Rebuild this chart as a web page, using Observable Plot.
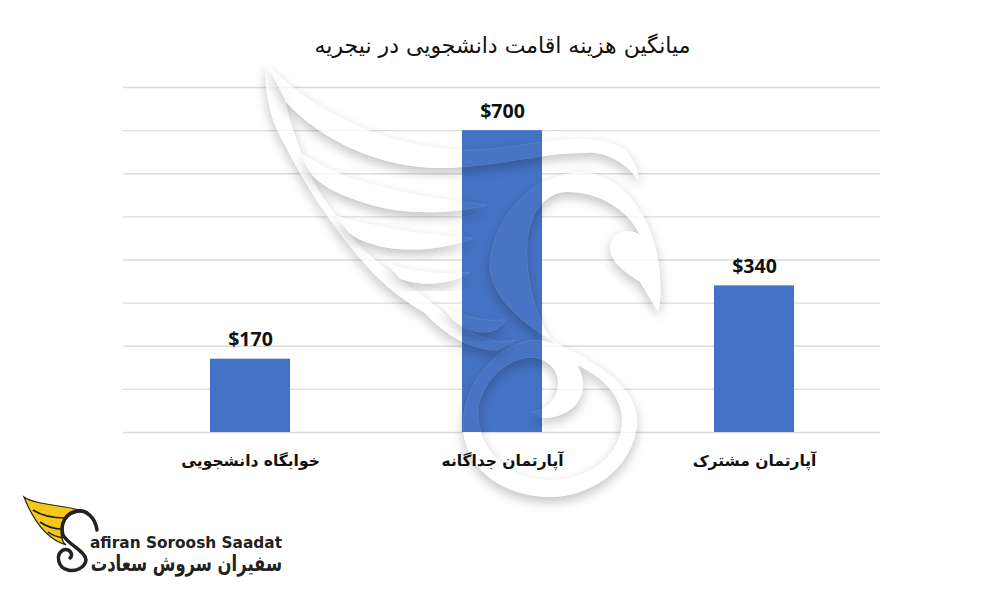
<!DOCTYPE html>
<html lang="fa"><head><meta charset="utf-8">
<script src="https://cdn.jsdelivr.net/npm/d3@7"></script>
<script src="https://cdn.jsdelivr.net/npm/@observablehq/plot@0.6"></script>
<style>
html,body{margin:0;background:#fff;width:1000px;height:600px;overflow:hidden;position:relative}
#title{position:absolute;top:31px;left:0;width:1005px;text-align:center;font:400 22px "DejaVu Sans",sans-serif;color:#111;direction:rtl;height:30px;line-height:30px}
#chart{position:absolute;top:0;left:0}
#art{position:absolute;left:0;top:0;pointer-events:none}
</style></head><body>
<div id="chart"></div>
<div id="title">میانگین هزینه اقامت دانشجویی در نیجریه</div>
<svg id="art" width="1000" height="600" viewBox="0 0 1000 600">
  <path d="M24 497C35 505 65 505 88 512C75 510 65 515 62 528C60 535 62 542 66 545C50 540 35 525 24 497Z" fill="#f7c61a" stroke="#222" stroke-width="1.2"/>
  <path d="M33 510C42 516 54 518 66 518M40 522C47 527 54 529 62 529M48 532C53 536 58 537 63 538" fill="none" stroke="#222" stroke-width="1.6"/>
  <path d="M97 530C95 516 85 510 78 511C65 512 60 525 63 535C68 545 85 550 86 560C85 568 75 572 68 570C58 568 55 555 63 550C70 548 74 555 70 558" fill="none" stroke="#222" stroke-width="3.5" stroke-linecap="round"/>
  <text x="90" y="548" font-family="'DejaVu Sans',sans-serif" font-weight="700" font-size="15.5" fill="#222" textLength="192" lengthAdjust="spacingAndGlyphs">afiran Soroosh Saadat</text>
  <text transform="translate(282 571) scale(.82,1.1)" direction="rtl" text-anchor="start" font-family="'DejaVu Sans',sans-serif" font-weight="700" font-size="20" fill="#222">سفیران سروش سعادت</text>
</svg>
<script>
const categories = ["خوابگاه دانشجویی", "آپارتمان جداگانه", "آپارتمان مشترک"];
const values = [170, 700, 340];
const gridTicks = [0, 100, 200, 300, 400, 500, 600, 700, 800];
const rows = categories.map((c, i) => ({c, v: values[i]}));
const fontFamily = "'DejaVu Sans', sans-serif";

// decorative watermark outlines (not data)
const watermarkShapes = [
  "M265 62C264 95 272 125 285 145C300 175 318 205 345 240C365 265 385 290 425 313C445 335 470 350 497 350L515 340C495 345 470 335 453 320C435 305 415 290 400 279C380 265 360 248 349 233C335 215 320 195 310 173C300 150 290 125 286 102C278 88 270 75 265 62Z",
  "M265 62C310 110 390 150 470 150C520 150 590 125 625 150C635 160 640 175 638 180C625 160 600 150 583 153C540 153 490 168 440 168C380 168 320 140 286 102Z",
  "M300 152C340 180 400 195 487 205C450 215 400 215 365 203C340 195 322 187 310 173Z",
  "M335 215C365 225 420 235 473 238C440 252 400 252 375 245C365 242 355 238 349 233Z",
  "M385 262C410 272 440 275 470 272C450 285 425 287 400 279Z",
  "M440 305C460 315 480 322 505 320C495 338 470 335 453 320Z",
  "M660 272C655 220 625 175 583 172C540 172 495 210 490 262C488 300 530 330 570 350C610 370 640 395 637 425C632 470 590 497 550 497C505 497 463 470 463 425C463 385 495 345 533 340C565 340 583 365 583 385C583 405 565 418 543 418L532 412C545 410 558 400 558 383C558 365 540 355 525 358C500 362 478 390 478 413C478 450 510 480 550 480C590 480 622 455 622 420C622 395 600 375 577 365C545 345 527 300 527 250C527 215 545 192 567 192C600 192 628 210 640 235C625 225 608 235 610 250C612 265 630 275 640 282L658 312C662 300 660 285 660 272Z"
];

function filterDefs(g) {
  const f = g.append("filter").attr("id", "wmShadow").attr("x", "-30%").attr("y", "-30%").attr("width", "160%").attr("height", "160%");
  f.append("feGaussianBlur").attr("in", "SourceAlpha").attr("stdDeviation", 6).attr("result", "b");
  f.append("feOffset").attr("in", "b").attr("dy", 5).attr("result", "o");
  f.append("feComposite").attr("in", "o").attr("in2", "SourceAlpha").attr("operator", "out").attr("result", "c");
  const t = f.append("feComponentTransfer").attr("in", "c");
  t.append("feFuncA").attr("type", "linear").attr("slope", 0.24);
}

const watermarkBelow = () => {
  const g = d3.create("svg:g");
  filterDefs(g);
  for (const d of watermarkShapes) {
    g.append("path").attr("d", d).attr("fill", "#000").attr("filter", "url(#wmShadow)");
    g.append("path").attr("d", d).attr("fill", "#fff").attr("fill-opacity", 0.75);
  }
  return g.node();
};

const watermarkAbove = (index, scales) => {
  const g = d3.create("svg:g");
  const x0 = scales.x(categories[1]);
  const bw = scales.x.bandwidth ?? scales.scales.x.bandwidth;
  g.append("clipPath").attr("id", "wmBar").append("rect")
    .attr("x", x0).attr("y", scales.y(values[1])).attr("width", bw).attr("height", scales.y(0) - scales.y(values[1]));
  const c = g.append("g").attr("clip-path", "url(#wmBar)");
  for (const d of watermarkShapes) {
    c.append("path").attr("d", d).attr("fill", "#000").attr("filter", "url(#wmShadow)");
    c.append("path").attr("d", d).attr("fill", "#fff").attr("fill-opacity", 0.02).attr("stroke", "#fff").attr("stroke-opacity", 0.1);
  }
  return g.node();
};

const chart = Plot.plot({
  width: 1000, height: 600,
  marginTop: 87, marginBottom: 168, marginLeft: 123, marginRight: 120,
  style: {background: "transparent", fontFamily},
  x: {domain: categories, paddingInner: 0.683, paddingOuter: 0.343, label: null},
  y: {domain: [0, 800], label: null, axis: null},
  marks: [
    Plot.ruleY(gridTicks, {stroke: "#dcdcdc", strokeWidth: 1.4}),
    watermarkBelow,
    Plot.barY(rows, {x: "c", y: "v", fill: "#4472c4"}),
    watermarkAbove,
    Plot.text(rows, {x: "c", y: "v", text: d => "$" + d.v, dy: -19, fontSize: 19.5, fontWeight: 700, fill: "#111", fontFamily: "'Open Sans', sans-serif"}),
    Plot.axisX({tickSize: 0, tickPadding: 22, fontSize: 15.5, fontWeight: 700, color: "#111", label: null, lineAnchor: "top"})
  ]
});
document.getElementById("chart").append(chart);
</script>
</body></html>
